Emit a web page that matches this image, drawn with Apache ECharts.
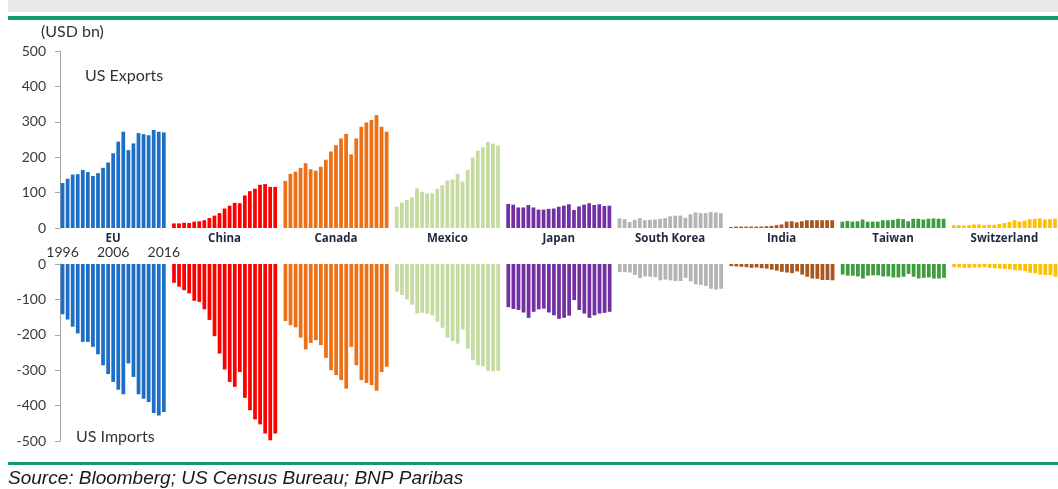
<!DOCTYPE html>
<html lang="en">

<head>
  <meta charset="UTF-8">
  <title>US exports and imports by partner</title>
  <style>
    html,
    body {
      margin: 0;
      width: 100%;
      height: 100%;
      background: #fff;
    }

    .chart {
      width: 1058px;
      height: 489px;
    }
  </style>
</head>

<body>
  <div id="chart" class="chart"></div>

  <script src="https://cdn.jsdelivr.net/npm/echarts@6/dist/echarts.min.js"></script>
  <script>
    // partners, left to right, 1996-2016 for each
    var countries = ['EU', 'China', 'Canada', 'Mexico', 'Japan', 'South Korea', 'India', 'Taiwan', 'Switzerland'];
    var years = ['1996', '1997', '1998', '1999', '2000', '2001', '2002', '2003', '2004', '2005', '2006',
      '2007', '2008', '2009', '2010', '2011', '2012', '2013', '2014', '2015', '2016'];
    var yearTicks = ['1996', '2006', '2016'];
    var colors = ['#1c6fc4', '#ff0000', '#ec7016', '#c6dba0', '#7330a2', '#b4b4b4', '#a9571f', '#3f9c3f', '#ffc000'];

    // US exports (USD bn)
    var exportsEU = [127, 139, 151, 152, 164, 158, 147, 155, 170, 185, 211, 244, 272, 220, 239, 268, 265, 262, 277, 272, 270];
    var exportsChina = [13, 13, 15, 14, 18, 19, 22, 28, 35, 42, 55, 63, 71, 70, 92, 104, 111, 122, 124, 116, 116];
    var exportsCanada = [133, 153, 159, 170, 183, 166, 162, 173, 193, 216, 234, 253, 266, 208, 253, 286, 298, 305, 319, 286, 272];
    var exportsMexico = [60, 72, 79, 87, 112, 102, 98, 98, 111, 121, 134, 137, 153, 131, 164, 199, 218, 228, 243, 238, 233];
    var exportsJapan = [68, 66, 58, 58, 65, 58, 52, 52, 54, 55, 60, 63, 67, 51, 61, 66, 70, 65, 67, 62, 63];
    var exportsKorea = [27, 25, 17, 23, 28, 22, 23, 24, 26, 28, 33, 35, 35, 29, 39, 44, 42, 42, 45, 44, 42];
    var exportsIndia = [3, 4, 4, 4, 4, 4, 4, 5, 6, 8, 10, 18, 19, 16, 19, 22, 22, 22, 22, 22, 22];
    var exportsTaiwan = [18, 20, 18, 19, 24, 18, 18, 18, 22, 22, 23, 26, 25, 19, 26, 26, 24, 26, 27, 26, 26];
    var exportsSwiss = [8, 8, 7, 8, 10, 10, 8, 9, 9, 11, 14, 17, 22, 18, 21, 25, 26, 27, 24, 25, 26];

    // US imports (USD bn, drawn below zero)
    var importsEU = [-142, -157, -177, -196, -220, -220, -234, -255, -286, -311, -333, -355, -368, -281, -319, -368, -381, -390, -421, -428, -418];
    var importsChina = [-53, -64, -74, -83, -104, -107, -128, -158, -204, -253, -298, -333, -347, -305, -378, -413, -439, -453, -479, -498, -479];
    var importsCanada = [-161, -173, -179, -208, -241, -223, -215, -229, -265, -300, -314, -328, -352, -234, -286, -328, -336, -342, -358, -305, -290];
    var importsMexico = [-78, -88, -100, -115, -140, -138, -140, -145, -163, -180, -208, -218, -225, -185, -239, -272, -286, -289, -302, -303, -302];
    var importsJapan = [-122, -127, -130, -137, -152, -135, -128, -126, -137, -145, -155, -152, -146, -102, -130, -140, -152, -145, -140, -138, -135];
    var importsKorea = [-23, -23, -24, -31, -40, -35, -36, -37, -46, -44, -46, -48, -48, -39, -49, -57, -59, -62, -70, -72, -70];
    var importsIndia = [-6, -7, -8, -9, -11, -10, -12, -13, -16, -19, -22, -24, -26, -21, -30, -36, -41, -42, -45, -45, -46];
    var importsTaiwan = [-30, -33, -33, -35, -41, -33, -32, -32, -35, -35, -38, -38, -36, -28, -36, -41, -39, -38, -41, -41, -39];
    var importsSwiss = [-9, -10, -11, -11, -10, -10, -9, -11, -12, -13, -14, -15, -18, -18, -20, -25, -26, -30, -31, -31, -36];

    var exportsAll = [exportsEU, exportsChina, exportsCanada, exportsMexico, exportsJapan, exportsKorea, exportsIndia, exportsTaiwan, exportsSwiss];
    var importsAll = [importsEU, importsChina, importsCanada, importsMexico, importsJapan, importsKorea, importsIndia, importsTaiwan, importsSwiss];

    // one slot per year, an empty slot between partners
    var slots = [], labels = [], expData = [], impData = [];
    countries.forEach(function (c, ci) {
      years.forEach(function (y, yi) {
        slots.push(c + ' ' + y);
        var lab = '';
        if (yi === 10) lab = '{c|' + c + '}';
        if (ci === 0 && yearTicks.indexOf(y) >= 0) lab = (lab || '{c| }') + '\n{y|' + y + '}';
        labels.push(lab);
        expData.push({ value: exportsAll[ci][yi], itemStyle: { color: colors[ci] } });
        impData.push({ value: importsAll[ci][yi], itemStyle: { color: colors[ci] } });
      });
      if (ci < countries.length - 1) {
        slots.push('gap' + ci);
        labels.push('');
        expData.push(null);
        impData.push(null);
      }
    });

    var myChart = echarts.init(document.getElementById('chart'));
    var axisGray = '#a6a6a6';
    var txt = '#3a3a3a';

    var option = {
      animation: false,
      grid: [
        { left: 60, right: 0, top: 51, height: 177 },
        { left: 60, right: 0, top: 264, height: 177 }
      ],
      xAxis: [{
        type: 'category', gridIndex: 0, data: slots,
        axisLine: { show: false }, axisTick: { show: false },
        axisLabel: {
          interval: 0, margin: 5,
          formatter: function (v, i) { return labels[i]; },
          rich: {
            c: { fontFamily: 'Open Sans', fontWeight: 'bold', fontSize: 11.5, color: '#1f2740', lineHeight: 12 },
            y: { fontFamily: 'Lato', fontSize: 14, color: '#333', lineHeight: 15 }
          }
        }
      }, {
        type: 'category', gridIndex: 1, data: slots, position: 'top',
        axisLine: { show: false }, axisTick: { show: false }, axisLabel: { show: false }
      }],
      yAxis: [{
        type: 'value', gridIndex: 0, min: 0, max: 500, interval: 100,
        axisLine: { show: true, lineStyle: { color: axisGray } },
        axisTick: { show: true, length: 5, lineStyle: { color: axisGray } },
        splitLine: { show: false },
        axisLabel: { margin: 14, fontFamily: 'Lato', fontSize: 14, color: txt }
      }, {
        type: 'value', gridIndex: 1, min: -500, max: 0, interval: 100,
        axisLine: { show: true, lineStyle: { color: axisGray } },
        axisTick: { show: true, length: 5, lineStyle: { color: axisGray } },
        splitLine: { show: false },
        axisLabel: { margin: 14, fontFamily: 'Lato', fontSize: 14, color: txt }
      }],
      series: [{
        name: 'US Exports', type: 'bar', xAxisIndex: 0, yAxisIndex: 0,
        barWidth: '74%', data: expData
      }, {
        name: 'US Imports', type: 'bar', xAxisIndex: 1, yAxisIndex: 1,
        barWidth: '74%', data: impData
      }],
      graphic: [
        { type: 'rect', shape: { x: 8, y: 0, width: 1050, height: 12 }, style: { fill: '#e9e9e9' } },
        { type: 'rect', shape: { x: 8, y: 16, width: 1050, height: 4 }, style: { fill: '#0f9b73' } },
        { type: 'rect', shape: { x: 8, y: 462, width: 1050, height: 3 }, style: { fill: '#0f9b73' } },
        { type: 'text', left: 41, top: 24, style: { text: '(USD bn)', font: '16px Lato', fill: '#333' } },
        { type: 'text', left: 85, top: 68, style: { text: 'US Exports', font: '16px Lato', fill: '#333' } },
        { type: 'text', left: 76, top: 429, style: { text: 'US Imports', font: '16px Lato', fill: '#333' } },
        { type: 'text', left: 8, top: 469, style: { text: 'Source: Bloomberg; US Census Bureau; BNP Paribas', font: 'italic 19px "Liberation Sans"', fill: '#1a1a1a' } }
      ]
    };

    myChart.setOption(option);
    window.addEventListener('resize', function () {
      myChart.resize();
    });
  </script>
</body>

</html>
